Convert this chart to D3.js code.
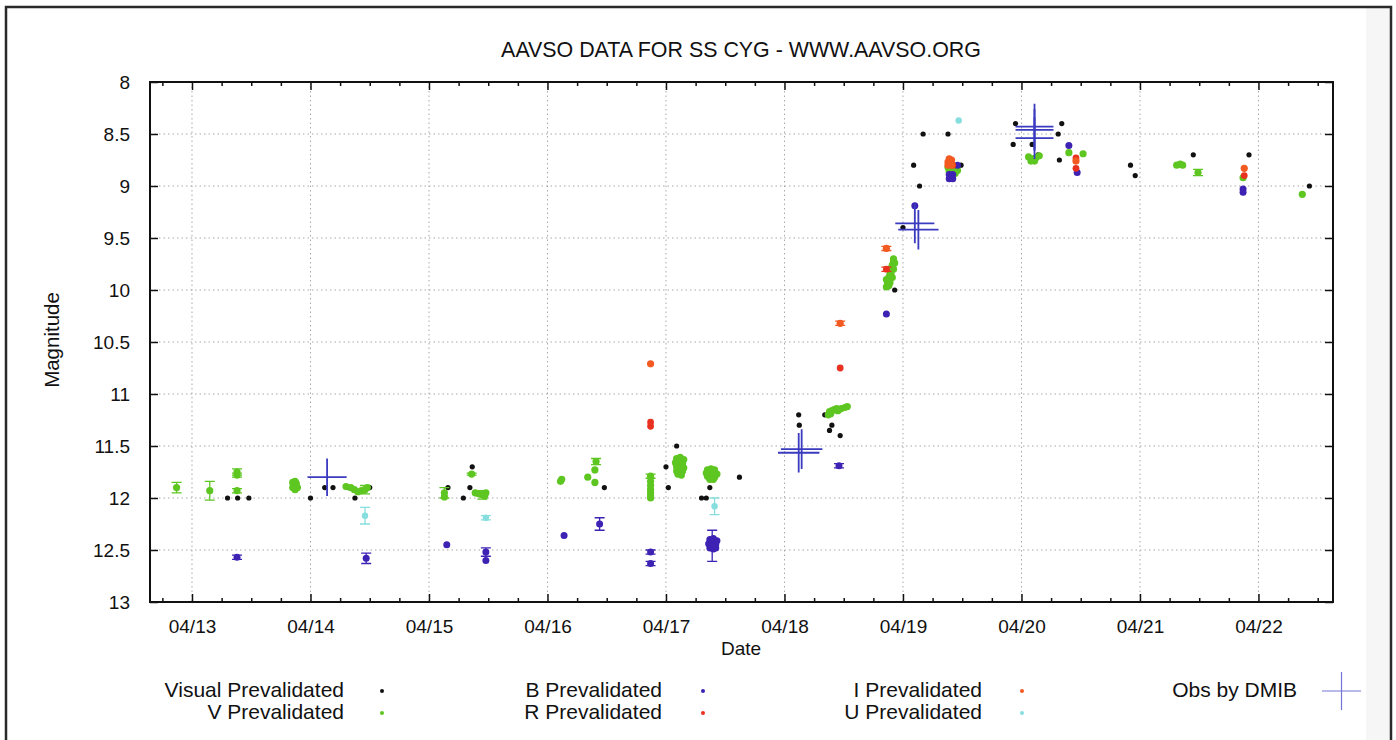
<!DOCTYPE html>
<html>
<head>
<meta charset="utf-8">
<script src="https://cdn.jsdelivr.net/npm/d3@7"></script>
<style>
  body { margin: 0; background: #fff; }
  svg text { font-family: "Liberation Sans", Arial, sans-serif; fill: #111; }
</style>
</head>
<body>
<svg id="chart" width="1396" height="740"></svg>
<script>
// observations: [day of April, magnitude, error]
var visual = [
  [13.30, 12.0], [13.385, 12.0], [13.48, 12.0], [14.0, 12.0], [14.12, 11.9], [14.19, 11.9],
  [14.32, 11.9], [14.375, 12.0], [14.50, 11.9], [15.16, 11.9], [15.29, 12.0], [15.345, 11.9],
  [15.365, 11.7], [16.48, 11.9], [17.0, 11.7], [17.09, 11.5], [17.02, 11.9], [17.30, 12.0],
  [17.34, 12.0], [17.37, 11.9], [17.62, 11.8], [18.12, 11.2], [18.125, 11.3], [18.34, 11.2],
  [18.40, 11.3], [18.38, 11.35], [18.47, 11.4], [18.93, 10.0], [19.0, 9.4], [19.09, 8.8],
  [19.14, 9.0], [19.17, 8.5], [19.38, 8.5], [19.49, 8.8], [19.95, 8.4], [19.93, 8.6],
  [20.09, 8.6], [20.14, 8.7], [20.34, 8.4], [20.31, 8.5], [20.32, 8.75], [20.92, 8.8],
  [20.96, 8.9], [21.45, 8.7], [21.92, 8.7], [22.43, 9.0]
];
var vBand = [
  [12.87, 11.90, 0.05], [13.15, 11.93, 0.09], [13.38, 11.75, 0.03], [13.38, 11.78, 0.02], [13.38, 11.93, 0.02],
  [13.85, 11.85], [13.86, 11.88], [13.87, 11.91], [13.88, 11.86], [13.88, 11.89], [13.87, 11.92],
  [13.86, 11.87], [13.89, 11.90], [13.85, 11.90], [13.87, 11.84],
  [14.30, 11.89], [14.34, 11.90], [14.37, 11.92], [14.40, 11.94], [14.43, 11.93], [14.46, 11.92, 0.04], [14.48, 11.90],
  [15.13, 11.95, 0.05], [15.13, 11.99], [15.36, 11.77, 0.01], [15.39, 11.95], [15.42, 11.96], [15.45, 11.97, 0.04],
  [15.47, 11.98], [15.48, 11.95],
  [16.11, 11.84], [16.12, 11.82], [16.34, 11.80], [16.40, 11.73], [16.41, 11.65, 0.03], [16.40, 11.85],
  [16.87, 11.79, 0.02], [16.87, 11.84], [16.87, 11.88], [16.87, 11.92], [16.87, 11.95], [16.87, 11.98], [16.87, 12.0],
  [17.09, 11.62], [17.12, 11.61], [17.15, 11.63], [17.08, 11.66], [17.11, 11.66], [17.14, 11.67], [17.09, 11.70],
  [17.12, 11.70], [17.15, 11.71], [17.09, 11.74], [17.12, 11.75], [17.14, 11.74], [17.10, 11.77], [17.13, 11.78],
  [17.35, 11.73], [17.38, 11.72], [17.41, 11.73], [17.34, 11.76], [17.37, 11.76], [17.40, 11.75], [17.43, 11.77],
  [17.35, 11.79], [17.38, 11.80], [17.41, 11.80], [17.37, 11.82], [17.40, 11.82],
  [18.37, 11.20], [18.38, 11.17], [18.40, 11.16], [18.42, 11.15], [18.44, 11.14], [18.46, 11.15], [18.48, 11.14],
  [18.51, 11.13], [18.53, 11.12], [18.39, 11.19], [18.45, 11.16],
  [18.92, 9.70], [18.92, 9.73], [18.91, 9.76], [18.90, 9.79], [18.90, 9.82], [18.89, 9.85], [18.88, 9.88],
  [18.87, 9.91], [18.87, 9.94], [18.86, 9.97], [18.91, 9.88], [18.93, 9.74], [18.92, 9.80], [18.86, 9.90],
  [18.89, 9.93], [18.88, 9.96], [18.90, 9.86],
  [19.38, 8.82], [19.41, 8.85], [19.44, 8.88], [19.46, 8.85], [19.39, 8.86],
  [20.06, 8.72], [20.09, 8.74], [20.12, 8.73], [20.15, 8.71], [20.08, 8.76], [20.11, 8.76],
  [20.40, 8.68], [20.52, 8.69], [21.31, 8.80], [21.34, 8.79], [21.36, 8.80], [21.49, 8.87, 0.03],
  [21.87, 8.92], [22.37, 9.08]
];
var bBand = [
  [13.38, 12.57, 0.02], [14.47, 12.58, 0.05], [15.15, 12.45], [15.48, 12.52, 0.04], [15.48, 12.60],
  [16.14, 12.36], [16.44, 12.25, 0.06], [16.87, 12.52, 0.02], [16.87, 12.63, 0.02],
  [17.37, 12.40], [17.40, 12.39], [17.43, 12.41], [17.36, 12.44], [17.39, 12.44], [17.42, 12.45],
  [17.37, 12.48], [17.40, 12.49], [17.42, 12.48], [17.39, 12.46, 0.15],
  [18.46, 11.69, 0.02], [18.86, 10.23], [19.10, 9.19], [19.39, 8.89], [19.42, 8.89], [19.39, 8.93],
  [19.42, 8.93], [19.46, 8.80], [20.40, 8.61], [20.47, 8.87], [21.87, 9.03], [21.87, 9.06]
];
var rBand = [
  [16.87, 11.27], [16.87, 11.31], [18.47, 10.75], [18.86, 9.80, 0.02], [19.42, 8.80],
  [20.46, 8.73], [20.46, 8.83], [21.88, 8.90]
];
var iBand = [
  [16.87, 10.71], [18.47, 10.32, 0.02], [18.86, 9.60, 0.02], [19.38, 8.77], [19.40, 8.78],
  [19.41, 8.75], [19.39, 8.74], [19.41, 8.80], [19.38, 8.80], [20.46, 8.76], [21.88, 8.83]
];
var uBand = [
  [14.46, 12.17, 0.08], [15.48, 12.19, 0.02], [17.41, 12.08, 0.08], [19.47, 8.37]
];
// DMIB: [day, mag, day error, mag error]
var dmib = [
  [14.14, 11.80, 0.165, 0.18], [18.12, 11.565, 0.175, 0.19], [18.145, 11.53, 0.175, 0.19],
  [19.10, 9.36, 0.165, 0.19], [19.13, 9.42, 0.17, 0.19],
  [20.11, 8.43, 0.16, 0.22], [20.11, 8.46, 0.16, 0.2], [20.11, 8.54, 0.16, 0.2]
];
var dayTicks = [13, 14, 15, 16, 17, 18, 19, 20, 21, 22];
var magTicks = [8, 8.5, 9, 9.5, 10, 10.5, 11, 11.5, 12, 12.5, 13];

var series = [
  { name: "Visual Prevalidated", data: visual, color: "#111111", r: 2.6 },
  { name: "V Prevalidated", data: vBand, color: "#5ec621", r: 3.6 },
  { name: "B Prevalidated", data: bBand, color: "#3d22b4", r: 3.5 },
  { name: "R Prevalidated", data: rBand, color: "#e8321f", r: 3.4 },
  { name: "I Prevalidated", data: iBand, color: "#f25a22", r: 3.6 },
  { name: "U Prevalidated", data: uBand, color: "#86dede", r: 3.2 }
];
var crossColor = "#3b3bbf";

var svg = d3.select("#chart");
var mLeft = 150, mRight = 1333, mTop = 82, mBottom = 602;

// frame around the whole picture
svg.append("rect").attr("x", 1366).attr("y", 8).attr("width", 24).attr("height", 740).attr("fill", "#f6f6f6");
svg.append("rect").attr("x", 6).attr("y", 7).attr("width", 1385).attr("height", 760)
  .attr("fill", "none").attr("stroke", "#2a2a2a").attr("stroke-width", 2.5);

var x = d3.scaleLinear().domain([12.6456, 22.629]).range([mLeft, mRight]);
var y = d3.scaleLinear().domain([8, 13]).range([mTop, mBottom]);

// grid
var grid = svg.append("g").attr("stroke", "#a8a8a8").attr("stroke-width", 1).attr("stroke-dasharray", "1.5,3");
grid.selectAll(".gx").data(dayTicks).enter().append("line")
  .attr("x1", d => x(d)).attr("x2", d => x(d)).attr("y1", mTop).attr("y2", mBottom);
grid.selectAll(".gy").data(magTicks.slice(1, -1)).enter().append("line")
  .attr("x1", mLeft).attr("x2", mRight).attr("y1", d => y(d)).attr("y2", d => y(d));

// axes, ticks inward like gnuplot
var minor = d3.range(12.75, 22.63, 0.25).filter(d => Math.abs(d - Math.round(d)) > 0.01);
function axisStyle(g) {
  g.select(".domain").remove();
  g.selectAll("line").attr("stroke", "#111").attr("stroke-width", 1.5);
  g.selectAll("text").style("font-size", "19px").attr("fill", "#111");
}
svg.append("g").attr("transform", "translate(0," + mBottom + ")")
  .call(d3.axisBottom(x).tickValues(dayTicks).tickSize(-8).tickPadding(18).tickFormat(d => "04/" + d))
  .call(axisStyle);
svg.append("g").attr("transform", "translate(0," + mBottom + ")")
  .call(d3.axisBottom(x).tickValues(minor).tickSize(-4).tickFormat(""))
  .call(axisStyle);
svg.append("g").attr("transform", "translate(0," + mTop + ")")
  .call(d3.axisTop(x).tickValues(dayTicks).tickSize(-8).tickFormat(""))
  .call(axisStyle);
svg.append("g").attr("transform", "translate(0," + mTop + ")")
  .call(d3.axisTop(x).tickValues(minor).tickSize(-4).tickFormat(""))
  .call(axisStyle);
svg.append("g").attr("transform", "translate(" + mLeft + ",0)")
  .call(d3.axisLeft(y).tickValues(magTicks).tickSize(-8).tickPadding(20).tickFormat(d3.format("")))
  .call(axisStyle);
svg.append("g").attr("transform", "translate(" + mRight + ",0)")
  .call(d3.axisRight(y).tickValues(magTicks).tickSize(-8).tickFormat(""))
  .call(axisStyle);

svg.append("rect").attr("x", mLeft).attr("y", mTop).attr("width", mRight - mLeft).attr("height", mBottom - mTop)
  .attr("fill", "none").attr("stroke", "#111").attr("stroke-width", 2);

// points with error bars
var plot = svg.append("g");
series.forEach(function (s) {
  var g = plot.append("g");
  var withErr = s.data.filter(d => d[2]);
  g.selectAll("path.err").data(withErr).enter().append("path")
    .attr("d", function (d) {
      var cx = x(d[0]), y1 = y(d[1] - d[2]), y2 = y(d[1] + d[2]);
      return "M" + cx + "," + y1 + "V" + y2 + "M" + (cx - 5) + "," + y1 + "H" + (cx + 5) +
        "M" + (cx - 5) + "," + y2 + "H" + (cx + 5);
    })
    .attr("stroke", s.color).attr("stroke-width", 1.3).attr("fill", "none");
  g.selectAll("circle").data(s.data).enter().append("circle")
    .attr("cx", d => x(d[0])).attr("cy", d => y(d[1])).attr("r", s.r).attr("fill", s.color);
});

// DMIB crosses
plot.append("g").selectAll("path").data(dmib).enter().append("path")
  .attr("d", function (d) {
    return "M" + x(d[0] - d[2]) + "," + y(d[1]) + "H" + x(d[0] + d[2]) +
      "M" + x(d[0]) + "," + y(d[1] - d[3]) + "V" + y(d[1] + d[3]);
  })
  .attr("stroke", crossColor).attr("stroke-width", 1.8).attr("fill", "none");

// labels
svg.append("text").attr("x", 741).attr("y", 57).attr("text-anchor", "middle")
  .style("font-size", "21.4px").text("AAVSO DATA FOR SS CYG - WWW.AAVSO.ORG");
svg.append("text").attr("x", 741).attr("y", 655).attr("text-anchor", "middle")
  .style("font-size", "19px").text("Date");
svg.append("text").attr("transform", "translate(59,340) rotate(-90)").attr("text-anchor", "middle")
  .style("font-size", "20.5px").text("Magnitude");

// legend
var legendCols = [
  { lx: 344, sx: 382 }, { lx: 662, sx: 703 }, { lx: 982, sx: 1022 }
];
var legend = svg.append("g");
series.forEach(function (s, i) {
  var col = legendCols[Math.floor(i / 2)], row = i % 2;
  var ly = 697 + row * 22;
  legend.append("text").attr("x", col.lx).attr("y", ly).attr("text-anchor", "end")
    .style("font-size", "21px").text(s.name);
  legend.append("circle").attr("cx", col.sx).attr("cy", ly - 6).attr("r", 2).attr("fill", s.color);
});
legend.append("text").attr("x", 1297).attr("y", 697).attr("text-anchor", "end")
  .style("font-size", "21px").text("Obs by DMIB");
legend.append("path")
  .attr("d", "M1322,691H1361M1341.5,672V710")
  .attr("stroke", "#7575d6").attr("stroke-width", 1.2).attr("fill", "none");
</script>
</body>
</html>
